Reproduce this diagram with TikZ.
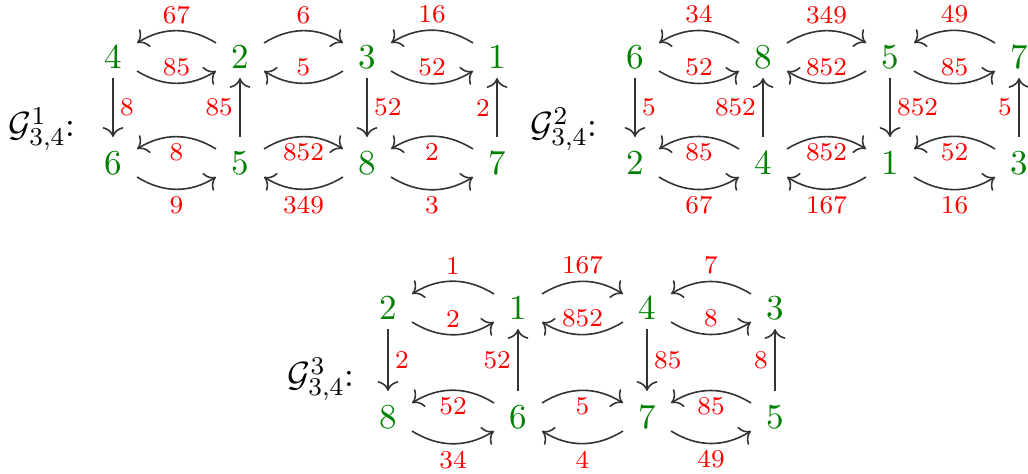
\documentclass[tikz,border=0pt]{standalone}
\usetikzlibrary{arrows.meta}
\tikzset{
  x=0.3125pt, y=0.3125pt,
  nd/.style={text=green!50!black, inner sep=0pt, font=\fontsize{10.95}{13.6}\selectfont},
  ttl/.style={anchor=base west, inner sep=0pt, font=\fontsize{10.95}{13.6}\selectfont},
  lbl/.style={text=red, font=\fontsize{8}{9.5}\selectfont, inner sep=2pt},
  ar/.style={draw=black!80, line width=0.5pt, -{Computer Modern Rightarrow[scale=1.15]}},
}
% arcs between left node #1 and right node #2, label #3 placed #4
\newcommand\arcUR[4]{\draw[ar] ([shift={(24,14)}]#1.center) to[bend left=32] node[lbl,#4]{#3} ([shift={(-24,14)}]#2.center);}
\newcommand\arcUL[4]{\draw[ar] ([shift={(-24,14)}]#2.center) to[bend right=32] node[lbl,#4]{#3} ([shift={(24,14)}]#1.center);}
\newcommand\arcLR[4]{\draw[ar] ([shift={(24,-14)}]#1.center) to[bend right=32] node[lbl,#4]{#3} ([shift={(-24,-14)}]#2.center);}
\newcommand\arcLL[4]{\draw[ar] ([shift={(-24,-14)}]#2.center) to[bend left=32] node[lbl,#4]{#3} ([shift={(24,-14)}]#1.center);}
\newcommand\vdown[4]{\draw[ar] ([shift={(0,-21)}]#1.center) -- node[lbl,#4]{#3} ([shift={(0,26)}]#2.center);}
\newcommand\vup[4]{\draw[ar] ([shift={(0,26)}]#1.center) -- node[lbl,#4]{#3} ([shift={(0,-21)}]#2.center);}
\begin{document}
\begin{tikzpicture}
\useasboundingbox (0,0) rectangle (1028,-474);
% ---------- Graph 1 ----------
\node[ttl] (g1t) at (8,-137) {$\mathcal{G}^1_{3,4}$:};
\node[nd] (g1a1) at (113,-57) {4};
\node[nd] (g1a2) at (240,-57) {2};
\node[nd] (g1a3) at (367,-57) {3};
\node[nd] (g1a4) at (497,-57) {1};
\node[nd] (g1b1) at (113,-163) {6};
\node[nd] (g1b2) at (240,-163) {5};
\node[nd] (g1b3) at (367,-163) {8};
\node[nd] (g1b4) at (497,-163) {7};
\arcUL{g1a1}{g1a2}{67}{above}
\arcLR{g1a1}{g1a2}{85}{above}
\arcUR{g1a2}{g1a3}{6}{above}
\arcLL{g1a2}{g1a3}{5}{above}
\arcUL{g1a3}{g1a4}{16}{above}
\arcLR{g1a3}{g1a4}{52}{above}
\arcUL{g1b1}{g1b2}{8}{below}
\arcLR{g1b1}{g1b2}{9}{below}
\arcUR{g1b2}{g1b3}{852}{below}
\arcLL{g1b2}{g1b3}{349}{below}
\arcUL{g1b3}{g1b4}{2}{below}
\arcLR{g1b3}{g1b4}{3}{below}
\vdown{g1a1}{g1b1}{8}{right}
\vup{g1b2}{g1a2}{85}{left}
\vdown{g1a3}{g1b3}{52}{right}
\vup{g1b4}{g1a4}{2}{left}
% ---------- Graph 2 ----------
\node[ttl] (g2t) at (530,-137) {$\mathcal{G}^2_{3,4}$:};
\node[nd] (g2a1) at (635,-57) {6};
\node[nd] (g2a2) at (763,-57) {8};
\node[nd] (g2a3) at (890,-57) {5};
\node[nd] (g2a4) at (1019,-57) {7};
\node[nd] (g2b1) at (635,-163) {2};
\node[nd] (g2b2) at (763,-163) {4};
\node[nd] (g2b3) at (890,-163) {1};
\node[nd] (g2b4) at (1019,-163) {3};
\arcUL{g2a1}{g2a2}{34}{above}
\arcLR{g2a1}{g2a2}{52}{above}
\arcUR{g2a2}{g2a3}{349}{above}
\arcLL{g2a2}{g2a3}{852}{above}
\arcUL{g2a3}{g2a4}{49}{above}
\arcLR{g2a3}{g2a4}{85}{above}
\arcUL{g2b1}{g2b2}{85}{below}
\arcLR{g2b1}{g2b2}{67}{below}
\arcUR{g2b2}{g2b3}{852}{below}
\arcLL{g2b2}{g2b3}{167}{below}
\arcUL{g2b3}{g2b4}{52}{below}
\arcLR{g2b3}{g2b4}{16}{below}
\vdown{g2a1}{g2b1}{5}{right}
\vup{g2b2}{g2a2}{852}{left}
\vdown{g2a3}{g2b3}{852}{right}
\vup{g2b4}{g2a4}{5}{left}
% ---------- Graph 3 ----------
\node[ttl] (g3t) at (287,-387) {$\mathcal{G}^3_{3,4}$:};
\node[nd] (g3a1) at (388,-308) {2};
\node[nd] (g3a2) at (518,-308) {1};
\node[nd] (g3a3) at (647,-308) {4};
\node[nd] (g3a4) at (775,-308) {3};
\node[nd] (g3b1) at (388,-417) {8};
\node[nd] (g3b2) at (518,-417) {6};
\node[nd] (g3b3) at (647,-417) {7};
\node[nd] (g3b4) at (775,-417) {5};
\arcUL{g3a1}{g3a2}{1}{above}
\arcLR{g3a1}{g3a2}{2}{above}
\arcUR{g3a2}{g3a3}{167}{above}
\arcLL{g3a2}{g3a3}{852}{above}
\arcUL{g3a3}{g3a4}{7}{above}
\arcLR{g3a3}{g3a4}{8}{above}
\arcUL{g3b1}{g3b2}{52}{below}
\arcLR{g3b1}{g3b2}{34}{below}
\arcUR{g3b2}{g3b3}{5}{below}
\arcLL{g3b2}{g3b3}{4}{below}
\arcUL{g3b3}{g3b4}{85}{below}
\arcLR{g3b3}{g3b4}{49}{below}
\vdown{g3a1}{g3b1}{2}{right}
\vup{g3b2}{g3a2}{52}{left}
\vdown{g3a3}{g3b3}{85}{right}
\vup{g3b4}{g3a4}{8}{left}
\end{tikzpicture}
\end{document}
